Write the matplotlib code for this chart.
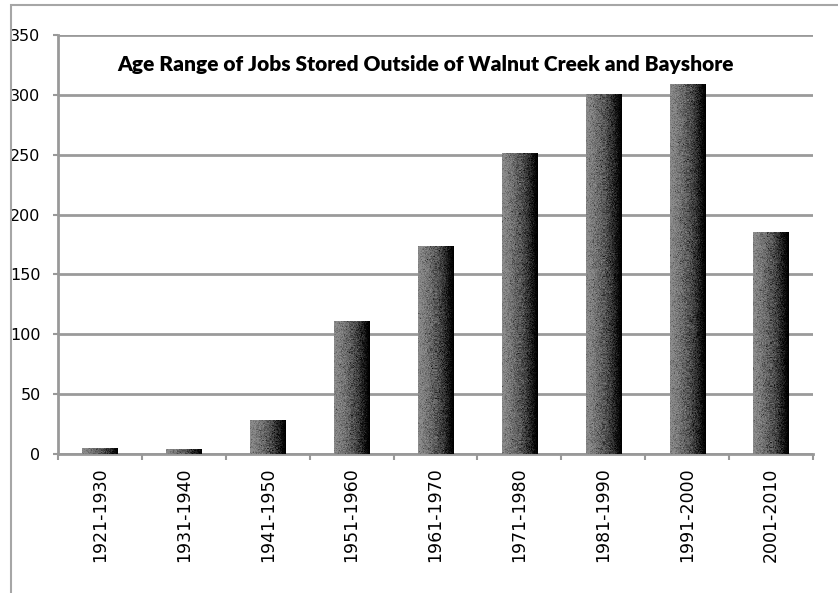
import numpy as np
import matplotlib
matplotlib.use("Agg")
import matplotlib.pyplot as plt
from matplotlib.colors import LinearSegmentedColormap
from matplotlib.patches import Rectangle

categories = ["1921-1930", "1931-1940", "1941-1950", "1951-1960", "1961-1970",
              "1971-1980", "1981-1990", "1991-2000", "2001-2010"]
jobs = [5, 4, 28, 111, 173, 251, 300, 309, 185]
y_ticks = [0, 50, 100, 150, 200, 250, 300, 350]
title = "Age Range of Jobs Stored Outside of Walnut Creek and Bayshore"

W, H = 838, 593
fig = plt.figure(figsize=(W / 100, H / 100), dpi=100)
fig.patch.set_facecolor("white")

# outer chart frame
fig.add_artist(Rectangle((11 / W, -0.05), 1.2, 1 - 5 / H + 0.05,
                         transform=fig.transFigure, fill=False,
                         edgecolor="#a6a6a6", linewidth=1.5))

ax = fig.add_axes([58 / W, 1 - 454 / H, (813 - 58) / W, (454 - 35) / H])

for s in ["top", "right"]:
    ax.spines[s].set_visible(False)
for s in ["left", "bottom"]:
    ax.spines[s].set_color("#999999")
    ax.spines[s].set_linewidth(2)

ax.set_yticks(y_ticks)
ax.set_yticklabels([str(v) for v in y_ticks], fontsize=11.5, family="DejaVu Sans")
ax.yaxis.grid(True, color="#9a9a9a", linewidth=2)
ax.set_axisbelow(True)
ax.tick_params(axis="y", length=3.6, width=1.5, color="#999999", pad=9)

# category labels centred, ticks between categories
ax.set_xticks(np.arange(len(categories)))
ax.set_xticklabels(categories, rotation=90, fontsize=12.5, family="DejaVu Sans")
ax.tick_params(axis="x", which="major", length=0, pad=9.5)
ax.set_xticks(np.arange(len(categories) + 1) - 0.5, minor=True)
ax.tick_params(axis="x", which="minor", length=4.5, width=1.5, color="#999999",
               direction="out")

# shaded, grainy bar fill (light left edge, black right edge)
cmap = LinearSegmentedColormap.from_list(
    "shade", [(0.0, "#8c8c8c"), (0.4, "#666666"), (0.72, "#333333"),
              (0.9, "#0c0c0c"), (1.0, "#000000")])
grain = np.random.default_rng(7)
px_per_unit = (454 - 35) / 350
bw = 0.42
bars = ax.bar(range(len(categories)), jobs, width=bw, color="none",
              edgecolor="none", zorder=3)
for b in bars:
    x0, h = b.get_x(), b.get_height()
    rows = max(2, int(round(h * px_per_unit)))
    cols = 35
    base = np.tile(np.linspace(0, 1, cols), (rows, 1))
    tex = np.clip(base + grain.normal(0, 0.17, base.shape) * (1 - base) ** 0.5, 0, 1)
    ax.imshow(tex, cmap=cmap, vmin=0, vmax=1, extent=[x0, x0 + bw, 0, h],
              aspect="auto", interpolation="nearest", zorder=3)

ax.set_xlim(-0.5, len(categories) - 0.5)
ax.set_ylim(0, 350)

fig.text(426 / W, 1 - 64 / H, title, ha="center", va="center",
         fontsize=15.0, fontweight="heavy", family="Lato")

fig.savefig("out.png", dpi=100, facecolor="white")
